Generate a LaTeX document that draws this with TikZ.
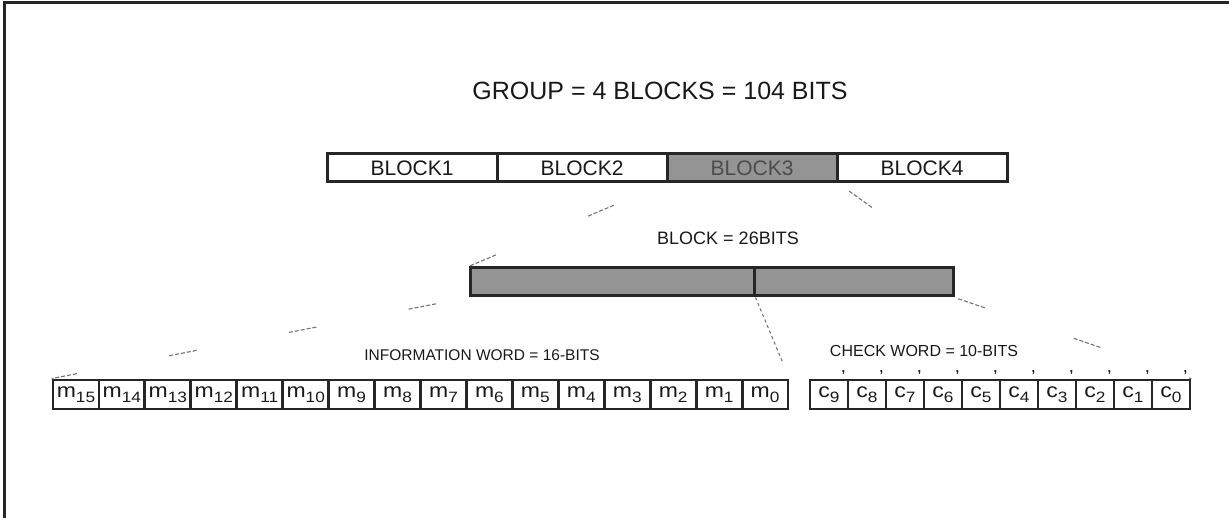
\documentclass[tikz,border=0pt]{standalone}
\usepackage{fontspec}
\setmainfont{Liberation Sans}
\newfontfamily\cellfont[FakeStretch=1.15]{Liberation Sans}
\newcommand\bitlab[2]{{\cellfont\fontsize{20}{22}\selectfont #1\raisebox{-4.5pt}{\fontsize{15}{15}\selectfont #2}}}
\begin{document}
\begin{tikzpicture}[x=1pt,y=-1pt,
  blk/.style={draw=black!85, line width=3pt, minimum width=170pt, minimum height=28pt, inner sep=0pt,
    font=\fontsize{21}{23}\selectfont, text=black!90},
  shade/.style={fill=black!42},
  barcell/.style={draw=black!85, line width=3pt, fill=black!42, minimum height=28pt, inner sep=0pt},
  mcell/.style={draw=black!85, line width=2.8pt, minimum width=45.94pt, minimum height=29pt, inner sep=0pt, text=black!90},
  ccell/.style={draw=black!85, line width=2.8pt, minimum width=38pt, minimum height=29pt, inner sep=0pt, text=black!90},
  lbl/.style={text=black!90, inner sep=0pt},
  tick/.style={text=black!90, inner sep=0pt, anchor=base, text height=2pt, text depth=3pt,
    font=\bfseries\fontsize{13}{13}\selectfont},
  ghost/.style={black!55, line width=1.1pt},
  frag/.style={dash pattern=on 4pt off 2pt on 4pt off 2pt on 4pt off 2pt on 4pt off 2pt on 4pt off #1}
]
\useasboundingbox (0,0) rectangle (1229,518);
% frame (top and left edges)
\draw[black!85, line width=3pt] (4,518) -- (4,2.5) -- (1229,2.5);

% title
\node[lbl, font=\fontsize{25}{28}\selectfont] (title) at (660,91) {GROUP = 4 BLOCKS = 104 BITS};

% group of blocks
\node[blk] (b1) at (412,168) {BLOCK1};
\node[blk] (b2) at (582,168) {BLOCK2};
\node[blk, shade, text=black!70] (b3) at (752,168) {BLOCK3};
\node[blk] (b4) at (922,168) {BLOCK4};

% block label and bar
\node[lbl, font=\fontsize{18}{20}\selectfont] (blabel) at (728,238) {BLOCK = 26BITS};
\node[barcell, minimum width=284pt] (info) at (612,282) {};
\node[barcell, minimum width=199pt] (check) at (853.5,282) {};

% word labels
\node[lbl, font=\fontsize{15.5}{17}\selectfont] (infolabel) at (482,355) {INFORMATION WORD = 16-BITS};
\node[lbl, font=\fontsize{16}{18}\selectfont] (checklabel) at (924,351) {CHECK WORD = 10-BITS};

% information bits
\foreach \i in {0,...,15}{
  \pgfmathtruncatemacro\k{15-\i}
  \pgfmathsetmacro\xx{53+45.94*(\i+0.5)}
  \node[mcell] (m\k) at (\xx,394.5) {\bitlab{m}{\k}};
}
% check bits
\foreach \i in {0,...,9}{
  \pgfmathtruncatemacro\k{9-\i}
  \pgfmathsetmacro\xx{810+38*(\i+0.5)}
  \node[ccell] (c\k) at (\xx,394.5) {\bitlab{c}{\k}};
  \node[tick] (cm\k) at ([xshift=-6pt,yshift=6pt]c\k.north east) {,};
}

% faint expansion connectors
\draw[ghost, frag=100pt, dash phase=72pt] (b3.south west) -- (info.north west);
\draw[ghost, frag=200pt, dash phase=215pt] (b3.south east) -- (check.north east);
\draw[ghost, frag=94pt, dash phase=89pt] (info.south west) -- (m15.north west);
\draw[ghost, dash pattern=on 3pt off 3pt on 3pt off 3pt on 3pt off 3pt on 3pt off 3pt on 3pt off 3pt on 3pt off 3pt on 3pt off 3pt on 3pt off 3pt on 3pt off 3pt on 3pt off 3pt on 3pt off 3pt on 3pt off 40pt] (info.south east) -- (m0.north east);
\draw[ghost, frag=94pt, dash phase=118pt] (check.south east) -- (c0.north east);
\end{tikzpicture}
\end{document}
